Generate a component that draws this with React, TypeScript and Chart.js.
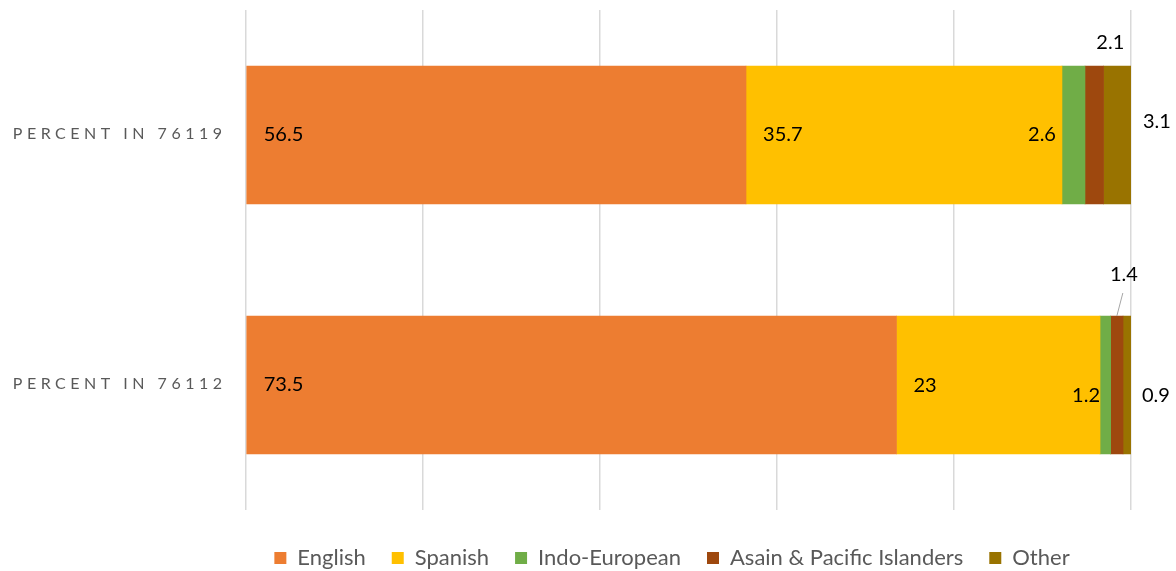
import React, { useEffect, useRef } from 'react';
import { Chart, registerables } from 'chart.js';

Chart.register(...registerables);

const categories = ['PERCENT IN 76119', 'PERCENT IN 76112'];
const seriesNames = ['English', 'Spanish', 'Indo-European', 'Asain & Pacific Islanders', 'Other'];
const english = [56.5, 73.5];
const spanish = [35.7, 23];
const indoEuropean = [2.6, 1.2];
const asianPacific = [2.1, 1.4];
const other = [3.1, 0.9];
const seriesValues = [english, spanish, indoEuropean, asianPacific, other];
const seriesColors = ['#ED7D31', '#FFC000', '#70AD47', '#9E480E', '#997300'];
const xMin = 0;
const xMax = 100;
const xStep = 20;

const FONT = 'Lato, "Open Sans", sans-serif';

// where each data label sits relative to its segment
const labelPlacement = [
  [{ at: 'base', dx: 17, dy: 0 }, { at: 'base', dx: 17, dy: 0 }],
  [{ at: 'base', dx: 17, dy: 0 }, { at: 'base', dx: 17, dy: 1 }],
  [{ at: 'before', dx: -6, dy: 0 }, { at: 'before', dx: 0, dy: 11 }],
  [{ at: 'above', dx: 16, dy: -23 }, { at: 'above', dx: 7, dy: -41, leader: true }],
  [{ at: 'after', dx: 12, dy: -13 }, { at: 'after', dx: 11, dy: 11 }],
];

const dataLabelPlugin = {
  id: 'dataLabelPlugin',
  afterDatasetsDraw(chart: any) {
    const ctx = chart.ctx;
    const area = chart.chartArea;
    ctx.save();
    ctx.font = `20px ${FONT}`;
    ctx.fillStyle = '#000000';
    ctx.textBaseline = 'middle';
    chart.data.datasets.forEach((ds: any, di: number) => {
      const meta = chart.getDatasetMeta(di);
      meta.data.forEach((el: any, i: number) => {
        const p = el.getProps(['x', 'base', 'y', 'height'], true);
        const pl = labelPlacement[di][i];
        const text = String(ds.data[i]);
        const left = Math.min(p.x, p.base);
        const right = Math.max(p.x, p.base);
        const top = p.y - p.height / 2;
        let x = 0;
        let y = p.y + pl.dy;
        if (pl.at === 'base') {
          ctx.textAlign = 'left';
          x = left + pl.dx;
        } else if (pl.at === 'before') {
          ctx.textAlign = 'right';
          x = left + pl.dx;
        } else if (pl.at === 'after') {
          ctx.textAlign = 'left';
          x = area.right + pl.dx;
        } else {
          ctx.textAlign = 'center';
          x = (left + right) / 2 + pl.dx;
          y = top + pl.dy;
          if ((pl as any).leader) {
            ctx.save();
            ctx.strokeStyle = '#a6a6a6';
            ctx.lineWidth = 1;
            ctx.beginPath();
            ctx.moveTo(x - 1, y + 18);
            ctx.lineTo((left + right) / 2, top);
            ctx.stroke();
            ctx.restore();
          }
        }
        ctx.fillText(text, x, y);
      });
    });
    ctx.restore();
  },
};

const categoryLabelPlugin = {
  id: 'categoryLabelPlugin',
  afterDraw(chart: any) {
    const ctx = chart.ctx;
    const yScale = chart.scales.y;
    ctx.save();
    ctx.font = `16px ${FONT}`;
    ctx.fillStyle = '#595959';
    ctx.textBaseline = 'middle';
    ctx.textAlign = 'right';
    const ls = 4.5;
    (ctx as any).letterSpacing = `${ls}px`;
    chart.data.labels.forEach((lab: string, i: number) => {
      const y = yScale.getPixelForValue(i);
      ctx.fillText(lab, 222 + ls, y - 1);
    });
    ctx.restore();
  },
};

export default function App() {
  const ref = useRef<HTMLCanvasElement | null>(null);
  useEffect(() => {
    if (!ref.current) return;
    const chart = new Chart(ref.current, {
      type: 'bar',
      data: {
        labels: categories,
        datasets: seriesNames.map((name, k) => ({
          label: name,
          data: seriesValues[k],
          backgroundColor: seriesColors[k],
          borderWidth: 0,
          barThickness: 138,
        })),
      },
      options: {
        indexAxis: 'y',
        animation: false,
        responsive: true,
        maintainAspectRatio: false,
        layout: { padding: { left: 213, right: 45, top: 10, bottom: -8 } },
        scales: {
          x: {
            stacked: true,
            min: xMin,
            max: xMax,
            ticks: { display: false, stepSize: xStep },
            grid: { color: '#d9d9d9', lineWidth: 1.5, drawTicks: false },
            border: { display: false },
            afterFit: (s: any) => {
              s.height = 11;
            },
          },
          y: {
            stacked: true,
            display: true,
            ticks: { display: false },
            grid: { display: false, drawTicks: false },
            border: { display: false },
            afterFit: (s: any) => {
              s.width = 33;
            },
          },
        },
        plugins: {
          legend: {
            display: true,
            position: 'bottom',
            labels: {
              boxWidth: 12,
              boxHeight: 12,
              padding: 26,
              color: '#595959',
              font: { family: FONT, size: 22 },
            },
          },
          tooltip: { enabled: false },
        },
      },
      plugins: [dataLabelPlugin, categoryLabelPlugin],
    });
    return () => chart.destroy();
  }, []);
  return (
    <div style={{ position: 'absolute', left: 0, top: 0, width: 1176, height: 571 }}>
      <canvas ref={ref} />
    </div>
  );
}
